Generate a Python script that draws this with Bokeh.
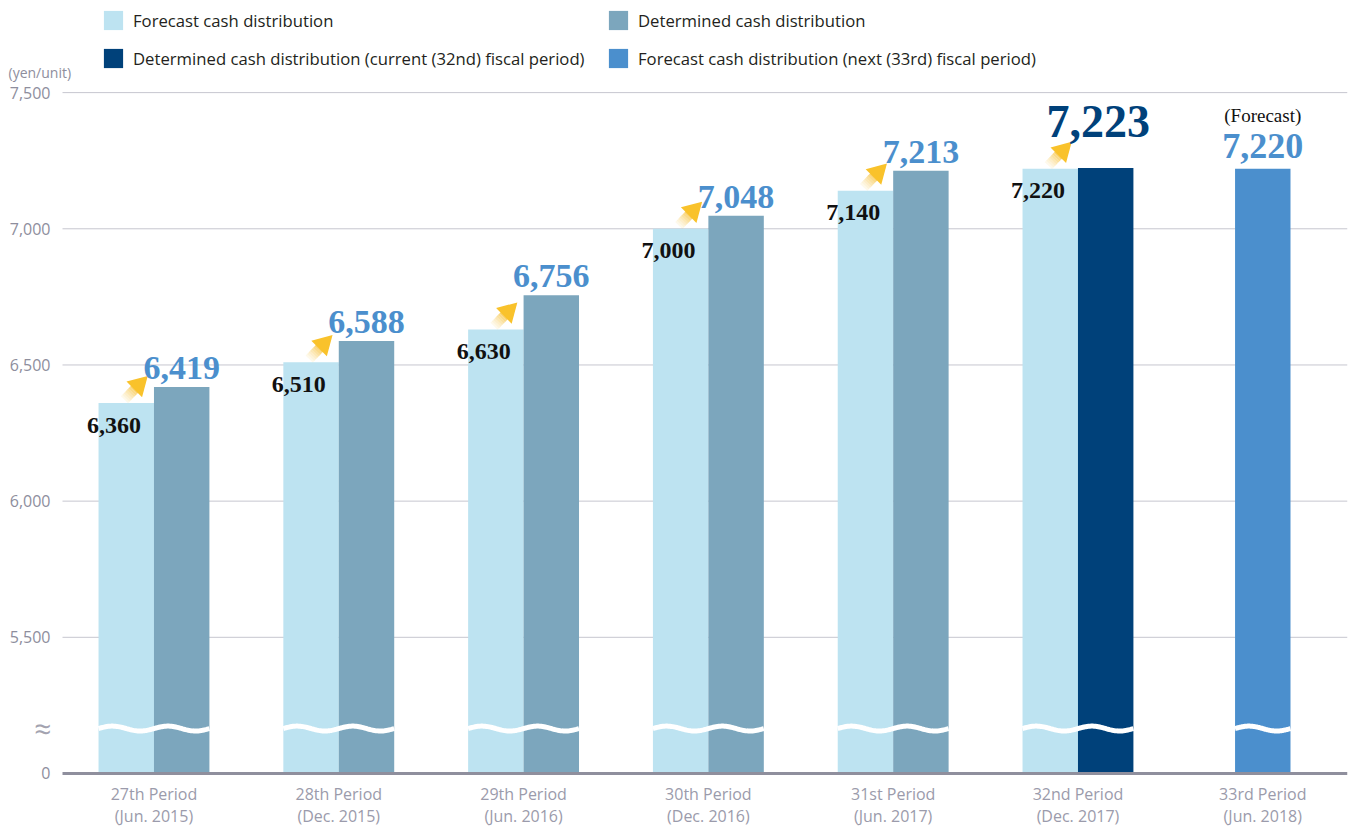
import numpy as np
from bokeh.plotting import figure
from bokeh.models import Range1d, FixedTicker, Legend, LegendItem, ColumnDataSource
from bokeh.core.properties import value
from bokeh.embed import file_html
from bokeh.resources import INLINE

# ---------------- data ----------------
periods = ["27th Period", "28th Period", "29th Period", "30th Period",
           "31st Period", "32nd Period", "33rd Period"]
dates = ["(Jun. 2015)", "(Dec. 2015)", "(Jun. 2016)", "(Dec. 2016)",
         "(Jun. 2017)", "(Dec. 2017)", "(Jun. 2018)"]
forecast = [6360, 6510, 6630, 7000, 7140, 7220]          # 27th..32nd
determined = [6419, 6588, 6756, 7048, 7213]              # 27th..31st
determined_current = [7223]                              # 32nd
forecast_next = [7220]                                   # 33rd
y_tick_values = [0, 5500, 6000, 6500, 7000, 7500]
legend_labels = ["Forecast cash distribution",
                 "Determined cash distribution",
                 "Determined cash distribution (current (32nd) fiscal period)",
                 "Forecast cash distribution (next (33rd) fiscal period)"]
unit_label = "(yen/unit)"
break_sign = "≈"

BREAK = 5000          # axis is broken between 0 and 5,000
WAVE_Y = 165          # position (display units) of the white wave cut
BREAK_MARK = WAVE_Y   # the "≈" sign sits at the level of the cut

C_LIGHT = "#bde3f1"
C_DET = "#7ca6bd"
C_CUR = "#00417a"
C_NEXT = "#4b8fcd"
C_LBL = "#4b8fcd"
C_AXIS_TXT = "#8e8e9d"
SERIF = value("Liberation Serif")
SANS = value("Open Sans")


def disp(v):
    return [x - BREAK if x > 0 else 0 for x in v]


n = len(periods)
gx = np.arange(n)
BW = 0.3
PX = 184.8                 # pixels per category unit
X0 = -0.495                # left end of the plotting area (grid start)
X_START = X0 - 62 / PX     # frame reaches the page edge for the axis texts
Y_PX = 0.272               # pixels per display unit
FRAME_H = 783              # frame height in pixels (x-axis labels below)
Y_START = -11 / Y_PX       # a little room below the baseline for the "0" label

p = figure(width=1352, height=829, title=None,
           x_range=Range1d(X_START, X_START + 1347 / PX),
           y_range=Range1d(Y_START, Y_START + FRAME_H / Y_PX),
           output_backend="svg", toolbar_location=None,
           min_border_left=0, min_border_right=5, min_border_top=0,
           min_border_bottom=0)
p.outline_line_color = None
p.background_fill_color = "white"
p.yaxis.visible = False
p.grid.grid_line_color = None

X_END = p.x_range.end

# ---------------- grid lines ----------------
ytick_pos = disp(y_tick_values)
grid_y = [t for t in ytick_pos if t > 0]
p.segment(x0=[X0] * len(grid_y), y0=grid_y, x1=[X_END] * len(grid_y), y1=grid_y,
          line_color="#c6c6cf", line_width=1)

# ---------------- bars ----------------
src_f = ColumnDataSource(dict(x=gx[:6] - BW / 2, top=disp(forecast)))
src_d = ColumnDataSource(dict(x=gx[:5] + BW / 2, top=disp(determined)))
src_c = ColumnDataSource(dict(x=gx[5:6] + BW / 2, top=disp(determined_current)))
src_n = ColumnDataSource(dict(x=gx[6:7], top=disp(forecast_next)))

r_f = p.vbar(x="x", top="top", bottom=0, width=BW, source=src_f, fill_color=C_LIGHT, line_color=None)
r_d = p.vbar(x="x", top="top", bottom=0, width=BW, source=src_d, fill_color=C_DET, line_color=None)
r_c = p.vbar(x="x", top="top", bottom=0, width=BW, source=src_c, fill_color=C_CUR, line_color=None)
r_n = p.vbar(x="x", top="top", bottom=0, width=BW, source=src_n, fill_color=C_NEXT, line_color=None)

# baseline
p.segment(x0=[X0], y0=[0], x1=[X_END], y1=[0], line_color="#8f8f9d", line_width=3)

# ---------------- wavy white cut ----------------
wx, wy = [], []
for g in gx:
    if g < 6:
        x0, x1 = g - BW, g + BW
    else:
        x0, x1 = g - BW / 2, g + BW / 2
    xs = np.linspace(x0, x1, 80)
    wx.append(list(xs))
    wy.append(list(WAVE_Y + 9 * np.sin(2 * np.pi * (xs - x0) / BW)))
p.multi_line(xs=wx, ys=wy, line_color="white", line_width=5)

# ---------------- arrows (forecast -> determined) ----------------
ftop = np.array(disp(forecast), dtype=float)
bx = gx[:6] - 0.16
by = ftop + 12
tx = gx[:6] - 0.055
ty = ftop + 86
N = 8
for k in range(N):
    a0, a1 = k / N * 0.62, (k + 1) / N * 0.62
    p.segment(x0=bx + (tx - bx) * a0, y0=by + (ty - by) * a0,
              x1=bx + (tx - bx) * a1, y1=by + (ty - by) * a1,
              line_color="#f7c445", line_width=10, line_alpha=0.05 + 0.85 * ((k + 1) / N) ** 1.3,
              line_cap="butt")
p.scatter(x=bx + (tx - bx) * 0.74, y=by + (ty - by) * 0.74, marker="triangle",
          size=22, angle=-np.pi / 4, fill_color="#f9c22b", line_color=None)

# ---------------- value labels ----------------
p.text(x=gx[:6] - 0.07, y=ftop - 81, text=[f"{v:,}" for v in forecast],
       text_align="right", text_baseline="middle", text_font=SERIF,
       text_font_style="bold", text_font_size="24px", text_color="#111111")
p.text(x=gx[:5] + BW / 2, y=np.array(disp(determined)) + 70,
       text=[f"{v:,}" for v in determined], text_align="center",
       text_baseline="middle", text_font=SERIF, text_font_style="bold",
       text_font_size="34px", text_color=C_LBL)
p.text(x=gx[5:6] + BW / 2 - 0.04, y=np.array(disp(determined_current)) + 171,
       text=[f"{v:,}" for v in determined_current], text_align="center",
       text_baseline="middle", text_font=SERIF, text_font_style="bold",
       text_font_size="46px", text_color=C_CUR)
p.text(x=gx[6:7], y=np.array(disp(forecast_next)) + 85,
       text=[f"{v:,}" for v in forecast_next], text_align="center",
       text_baseline="middle", text_font=SERIF, text_font_style="bold",
       text_font_size="36px", text_color=C_LBL)
p.text(x=gx[6:7], y=np.array(disp(forecast_next)) + 195,
       text=["(Forecast)"], text_align="center",
       text_baseline="middle", text_font=SERIF,
       text_font_size="19px", text_color="#111111")

# ---------------- y axis texts (drawn as text in the left margin) ----------------
lab_x = X0 - 12 / PX
p.text(x=[lab_x] * len(ytick_pos), y=ytick_pos, text=[f"{v:,}" for v in y_tick_values],
       text_align="right", text_baseline="middle", text_font=SANS,
       text_font_size="16px", text_color=C_AXIS_TXT)
p.text(x=[lab_x + 0.003], y=[BREAK_MARK], text=[break_sign],
       text_align="right", text_baseline="middle", text_font=SANS,
       text_font_size="30px", text_color="#a3a3b0")
p.text(x=[X_START + 8 / PX], y=[ytick_pos[-1] + 74], text=[unit_label],
       text_align="left", text_baseline="middle", text_font=SANS,
       text_font_size="14px", text_color=C_AXIS_TXT)

# ---------------- x axis ----------------
p.xaxis.ticker = FixedTicker(ticks=list(gx))
p.xaxis.major_label_overrides = {int(i): f"{periods[i]}\n{dates[i]}" for i in gx}
p.xaxis.axis_line_color = None
p.xaxis.major_tick_line_color = None
p.xaxis.minor_tick_line_color = None
p.xaxis.major_label_standoff = -8
p.xaxis.major_label_text_font = "Open Sans"
p.xaxis.major_label_text_font_size = "16px"
p.xaxis.major_label_text_color = "#9b9bab"
p.xaxis.major_label_text_line_height = 1.0

# ---------------- legend (inside the frame, top-left) ----------------
legend = Legend(items=[LegendItem(label=legend_labels[0], renderers=[r_f]),
                       LegendItem(label=legend_labels[1], renderers=[r_d]),
                       LegendItem(label=legend_labels[2], renderers=[r_c]),
                       LegendItem(label=legend_labels[3], renderers=[r_n])],
                location=(101, FRAME_H - 7 - 62), orientation="horizontal", ncols=2,
                glyph_width=24, glyph_height=24, label_height=24, label_width=459,
                label_standoff=8, spacing=14, padding=0, margin=0,
                border_line_color=None, background_fill_alpha=0,
                label_text_font="Open Sans", label_text_font_size="16.7px",
                label_text_color="#231f20")
p.add_layout(legend)

open("out.html", "w").write(file_html(p, INLINE))
